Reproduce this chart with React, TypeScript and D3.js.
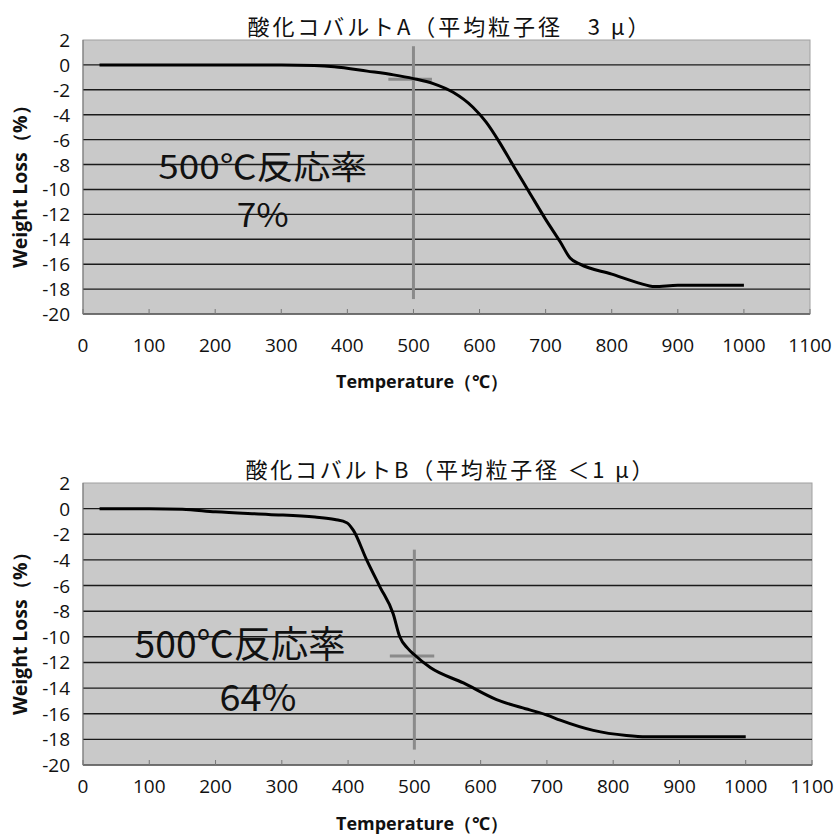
import React from "react";
import * as d3 from "d3";

const W = 836;
const H = 838;

// TG curves: [temperature, weight loss %]
const curveA: [number, number][] = [
  [25, 0], [100, 0], [200, 0], [300, 0], [350, -0.05], [380, -0.15], [430, -0.5],
  [470, -0.8], [500, -1.1], [530, -1.5], [560, -2.2], [590, -3.4], [610, -4.6],
  [630, -6.2], [650, -8], [675, -10.2], [700, -12.4], [722, -14.2], [737, -15.5],
  [752, -16], [800, -16.8], [840, -17.5], [865, -17.8], [900, -17.7], [1000, -17.7],
];
const curveB: [number, number][] = [
  [25, 0], [100, 0], [150, -0.05], [200, -0.25], [280, -0.45], [350, -0.65],
  [380, -0.85], [398, -1.1], [408, -1.7], [428, -4], [448, -6.1], [468, -8.2],
  [478, -10], [490, -10.9], [500, -11.4], [524, -12.4], [574, -13.6], [624, -14.9],
  [674, -15.7], [700, -16.1], [720, -16.5], [770, -17.3], [820, -17.7],
  [850, -17.8], [1000, -17.8],
];

const xTicks = [0, 100, 200, 300, 400, 500, 600, 700, 800, 900, 1000, 1100];
const yTicks = [2, 0, -2, -4, -6, -8, -10, -12, -14, -16, -18, -20];
const gridTicks = [0, -2, -4, -6, -8, -10, -12, -14, -16, -18];

const titleA = "酸化コバルトA（平均粒子径　3 μ）";
const titleB = "酸化コバルトB（平均粒子径 ＜1 μ）";

// 500 C marker: vertical line from y0 to y1, cross bar at yc from x0 to x1
const markerA = { x: 500, y0: 1.5, y1: -18.8, yc: -1.15, x0: 462, x1: 528 };
const markerB = { x: 500, y0: -3.2, y1: -18.8, yc: -11.5, x0: 463, x1: 530 };

const noteA = { line1: "500℃反応率", line2: "7%", x1: 272, y1: -8, x2: 272, y2: -11.9, w1: 209, w2: 52 };
const noteB = { line1: "500℃反応率", line2: "64%", x1: 237, y1: -10.4, x2: 264, y2: -14.5, w1: 211, w2: 77 };

const tickFont = "'Open Sans', 'Noto Sans', sans-serif";
const cjkFont = "'Noto Sans CJK JP', sans-serif";

type PanelProps = {
  data: [number, number][];
  title: string;
  titleW: number;
  marker: typeof markerA;
  note: typeof noteA;
  box: { left: number; right: number; top: number; bottom: number };
  titleY: number;
  tickY: number;
  xTitleY: number;
  noteSize: number;
};

function Panel({ data, title, titleW, marker, note, box, titleY, tickY, xTitleY, noteSize }: PanelProps) {
  const x = d3.scaleLinear().domain([0, 1100]).range([box.left, box.right]);
  const y = d3.scaleLinear().domain([2, -20]).range([box.top, box.bottom]);
  const line = d3
    .line<[number, number]>()
    .x(d => x(d[0]))
    .y(d => y(d[1]))
    .curve(d3.curveMonotoneX);
  const midY = (box.top + box.bottom) / 2;

  return (
    <g>
      <text
        x={(box.left + box.right) / 2 + 2}
        y={titleY}
        textAnchor="middle"
        dominantBaseline="central"
        fontFamily={cjkFont}
        fontSize={22}
        textLength={titleW}
        lengthAdjust="spacing"
        fill="#111"
      >
        {title}
      </text>
      <rect
        x={box.left}
        y={box.top}
        width={box.right - box.left}
        height={box.bottom - box.top}
        fill="#c9c9c9"
        stroke="#a0a0a0"
        strokeWidth={1}
      />
      {gridTicks.map(t => (
        <line key={t} x1={box.left} x2={box.right} y1={y(t)} y2={y(t)} stroke="#1a1a1a" strokeWidth={1.4} />
      ))}
      <line x1={box.left} x2={box.right} y1={box.bottom} y2={box.bottom} stroke="#555" strokeWidth={1.5} />
      <line x1={box.left} x2={box.left} y1={box.top} y2={box.bottom} stroke="#777" strokeWidth={1} />
      {xTicks.map(t => (
        <line key={t} x1={x(t)} x2={x(t)} y1={box.bottom} y2={box.bottom - 5} stroke="#777" strokeWidth={1} />
      ))}
      {/* 500 C marker */}
      <line x1={x(marker.x)} x2={x(marker.x)} y1={y(marker.y0)} y2={y(marker.y1)} stroke="#8a8a8a" strokeWidth={3} />
      <line x1={x(marker.x0)} x2={x(marker.x1)} y1={y(marker.yc)} y2={y(marker.yc)} stroke="#8a8a8a" strokeWidth={3} />
      <path d={line(data) || ""} fill="none" stroke="#000" strokeWidth={3} strokeLinejoin="round" />
      <text
        x={x(note.x1)}
        y={y(note.y1)}
        textAnchor="middle"
        dominantBaseline="central"
        fontFamily={cjkFont}
        fontSize={noteSize}
        textLength={note.w1}
        lengthAdjust="spacingAndGlyphs"
        fill="#111"
      >
        {note.line1}
      </text>
      <text
        x={x(note.x2)}
        y={y(note.y2)}
        textAnchor="middle"
        dominantBaseline="central"
        fontFamily={cjkFont}
        fontSize={noteSize}
        textLength={note.w2}
        lengthAdjust="spacingAndGlyphs"
        fill="#111"
      >
        {note.line2}
      </text>
      {yTicks.map(t => (
        <text
          key={t}
          x={box.left - 13}
          y={y(t)}
          textAnchor="end"
          dominantBaseline="central"
          fontFamily={tickFont}
          fontSize={19}
          fill="#111"
        >
          {t}
        </text>
      ))}
      {xTicks.map(t => (
        <text
          key={t}
          x={x(t)}
          y={tickY}
          textAnchor="middle"
          dominantBaseline="central"
          fontFamily={tickFont}
          fontSize={19}
          fill="#111"
        >
          {t}
        </text>
      ))}
      <text
        x={422}
        y={xTitleY}
        textAnchor="middle"
        dominantBaseline="central"
        fontFamily={tickFont}
        fontWeight="bold"
        fontSize={18}
        textLength={172}
        lengthAdjust="spacingAndGlyphs"
        fill="#111"
      >
        Temperature（℃）
      </text>
      <text
        transform={`translate(20,${midY + 5}) rotate(-90)`}
        textAnchor="middle"
        dominantBaseline="central"
        fontFamily={tickFont}
        fontWeight="bold"
        fontSize={19}
        textLength={172}
        lengthAdjust="spacingAndGlyphs"
        fill="#111"
      >
        Weight Loss（%）
      </text>
    </g>
  );
}

export default function App() {
  return (
    <svg
      width={W}
      height={H}
      viewBox={`0 0 ${W} ${H}`}
      style={{ position: "absolute", left: 0, top: 0, background: "#fff" }}
    >
      <Panel
        data={curveA}
        title={titleA}
        titleW={402}
        marker={markerA}
        note={noteA}
        box={{ left: 83, right: 810, top: 40, bottom: 314 }}
        titleY={25}
        tickY={345}
        xTitleY={381}
        noteSize={33}
      />
      <Panel
        data={curveB}
        title={titleB}
        titleW={408}
        marker={markerB}
        note={noteB}
        box={{ left: 83, right: 812, top: 483, bottom: 765 }}
        titleY={468}
        tickY={786}
        xTitleY={823}
        noteSize={37}
      />
    </svg>
  );
}
